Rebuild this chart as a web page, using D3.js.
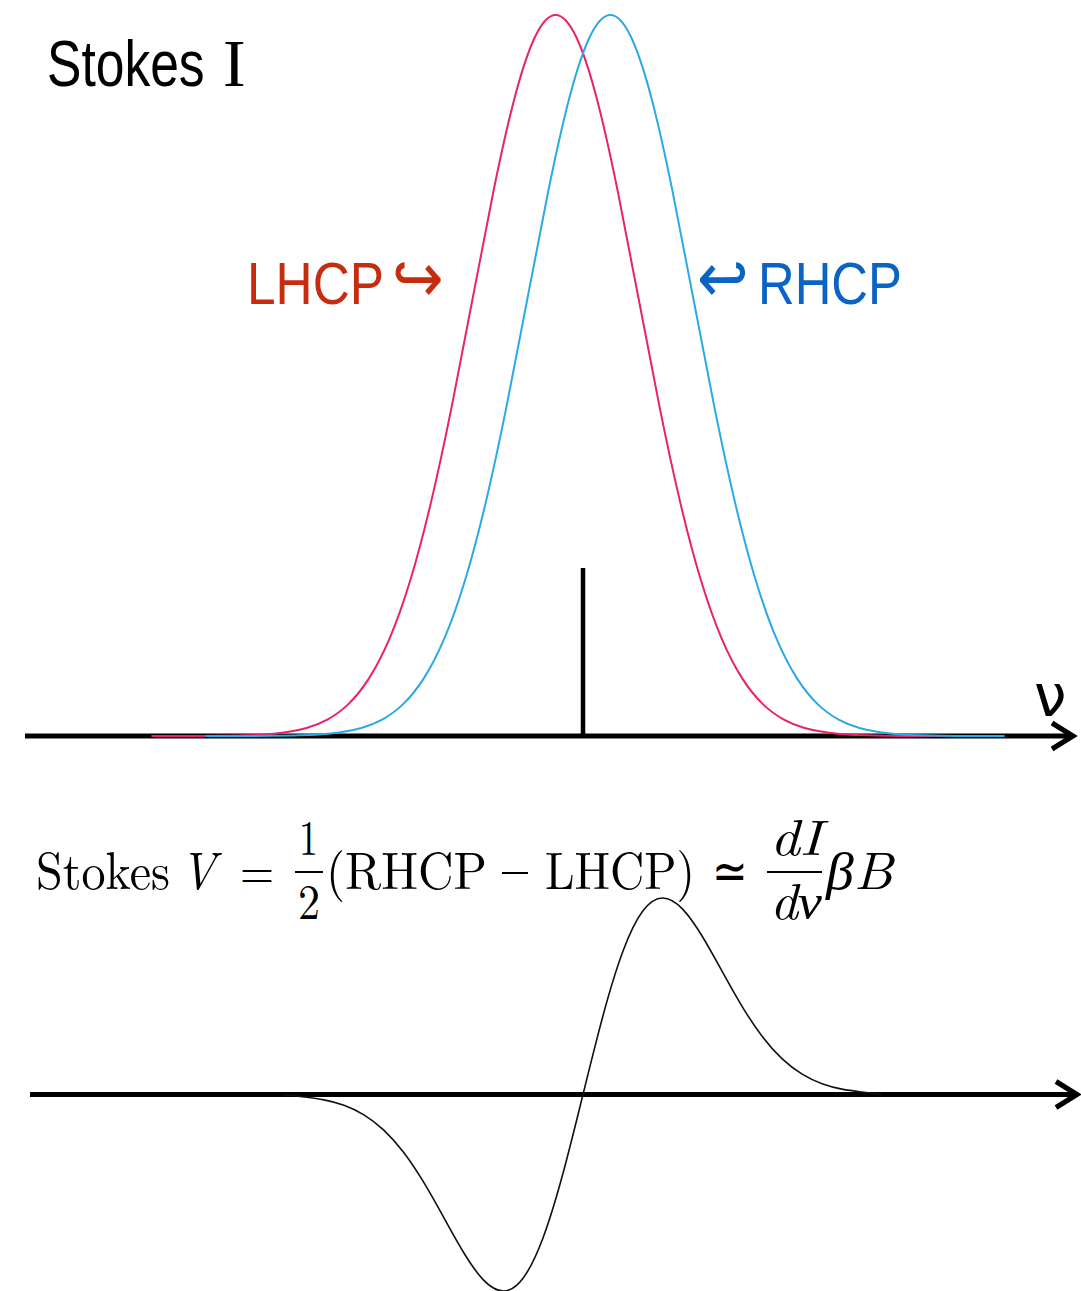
<!DOCTYPE html>
<html>
<head>
<meta charset="utf-8">
<script src="https://cdn.jsdelivr.net/npm/d3@7"></script>
<style>
  html, body { margin: 0; padding: 0; background: #fff; }
  svg { display: block; }
</style>
</head>
<body>
<svg id="chart" width="1081" height="1291"></svg>
<script>
// Frequency offsets (units of the line width) and normalised intensity
const nuLHCP = [-5.20, -4.83, -4.58, -4.33, -4.08, -3.83, -3.58, -3.33, -3.08, -2.83, -2.58, -2.33, -2.08, -1.83, -1.58, -1.33, -1.08, -0.83, -0.58, -0.33,
                -0.08, 0.17, 0.42, 0.67, 0.92, 1.17, 1.42, 1.67, 1.92, 2.17, 2.42, 2.67, 2.92, 3.17, 3.42, 3.67, 3.92, 4.17, 4.42];
const intensityLHCP = [0, 0.00004, 0.0001, 0.0003, 0.0009, 0.0022, 0.0051, 0.0111, 0.0228, 0.0439, 0.0796, 0.1353, 0.2163, 0.3247, 0.4578, 0.6065, 0.7548, 0.8825, 0.9692, 1,
                       0.9692, 0.8825, 0.7548, 0.6065, 0.4578, 0.3247, 0.2163, 0.1353, 0.0796, 0.0439, 0.0228, 0.0111, 0.0051, 0.0022, 0.0009, 0.0003, 0.0001, 0.00004, 0];

const nuRHCP = [-4.55, -4.17, -3.92, -3.67, -3.42, -3.17, -2.92, -2.67, -2.42, -2.17, -1.92, -1.67, -1.42, -1.17, -0.92, -0.67, -0.42, -0.17, 0.08, 0.33,
                0.58, 0.83, 1.08, 1.33, 1.58, 1.83, 2.08, 2.33, 2.58, 2.83, 3.08, 3.33, 3.58, 3.83, 4.08, 4.33, 4.58, 4.83, 5.08];
const intensityRHCP = [0, 0.00004, 0.0001, 0.0003, 0.0009, 0.0022, 0.0051, 0.0111, 0.0228, 0.0439, 0.0796, 0.1353, 0.2163, 0.3247, 0.4578, 0.6065, 0.7548, 0.8825, 0.9692, 1,
                       0.9692, 0.8825, 0.7548, 0.6065, 0.4578, 0.3247, 0.2163, 0.1353, 0.0796, 0.0439, 0.0228, 0.0111, 0.0051, 0.0022, 0.0009, 0.0003, 0.0001, 0.00004, 0];

// Stokes V profile (normalised)
const nuV = [-3.60, -3.36, -3.12, -2.88, -2.64, -2.40, -2.16, -1.92, -1.68, -1.44, -1.20, -0.96, -0.72, -0.48, -0.24, 0,
             0.24, 0.48, 0.72, 0.96, 1.20, 1.44, 1.68, 1.92, 2.16, 2.40, 2.64, 2.88, 3.12, 3.36, 3.60];
const stokesV = [0, -0.0126, -0.0273, -0.0549, -0.1034, -0.1811, -0.2952, -0.4463, -0.6241, -0.8029, -0.9435, -1, -0.9334, -0.7275, -0.3996, 0,
                 0.3996, 0.7275, 0.9334, 1, 0.9435, 0.8029, 0.6241, 0.4463, 0.2952, 0.1811, 0.1034, 0.0549, 0.0273, 0.0126, 0];

// Rest-frequency marker height (fraction of peak intensity)
const restMarker = [0, 0.233];

const svg = d3.select("#chart");

const x = d3.scaleLinear().domain([-7, 7]).range([2, 1164]);
const yI = d3.scaleLinear().domain([0, 1]).range([736, 15]);
const yV = d3.scaleLinear().domain([-1, 1]).range([1291, 898]);

const pinkColor = "#e8226c";
const blueColor = "#2aaae4";
const redText = "#c62d0e";
const blueText = "#0b63c4";
const sans = "'Liberation Sans', Arial, sans-serif";

function drawAxis(y0, x0, x1) {
  const g = svg.append("g");
  g.append("line")
    .attr("x1", x0).attr("x2", x1 - 2)
    .attr("y1", y0).attr("y2", y0)
    .attr("stroke", "#000").attr("stroke-width", 5);
  g.append("path")
    .attr("d", `M${x1 - 21},${y0 - 13} L${x1},${y0} L${x1 - 21},${y0 + 13}`)
    .attr("fill", "none").attr("stroke", "#000")
    .attr("stroke-width", 5).attr("stroke-linejoin", "miter").attr("stroke-linecap", "butt");
}

// condensed label: horizontally squeezed sans text
function condensed(txt, px, py, size, sx, color, family) {
  return svg.append("text")
    .attr("transform", `translate(${px},${py}) scale(${sx},1)`)
    .attr("font-family", family || sans).attr("font-size", size)
    .attr("fill", color).text(txt);
}

// ---------- Stokes I panel ----------
drawAxis(yI(0), 25, 1073);

svg.append("line")
  .attr("x1", x(0)).attr("x2", x(0))
  .attr("y1", yI(restMarker[0])).attr("y2", yI(restMarker[1]))
  .attr("stroke", "#000").attr("stroke-width", 4.5);

const lineI = d3.line().curve(d3.curveNatural);

svg.append("path")
  .attr("d", lineI(nuLHCP.map((v, i) => [x(v), yI(intensityLHCP[i])])))
  .attr("fill", "none").attr("stroke", pinkColor).attr("stroke-width", 2);

svg.append("path")
  .attr("d", lineI(nuRHCP.map((v, i) => [x(v), yI(intensityRHCP[i])])))
  .attr("fill", "none").attr("stroke", blueColor).attr("stroke-width", 2);

// Panel title
condensed("Stokes", 47, 86, 64, 0.806, "#000");
svg.append("text")
  .attr("x", 223).attr("y", 86)
  .attr("font-family", "'Liberation Serif', 'Times New Roman', serif")
  .attr("font-size", 68)
  .attr("fill", "#000").text("I");

// Polarisation labels
condensed("LHCP", 247, 304, 60, 0.856, redText);
condensed("↪", 392, 302, 70, 0.88, redText, "'DejaVu Sans', sans-serif");
condensed("↩", 697, 302, 70, 0.88, blueText, "'DejaVu Sans', sans-serif");
condensed("RHCP", 758, 304, 60, 0.847, blueText);

svg.append("text")
  .attr("x", 1034).attr("y", 716)
  .attr("font-family", "'DejaVu Sans', sans-serif")
  .attr("font-size", 58)
  .attr("fill", "#000").text("ν");

// ---------- Stokes V panel ----------
drawAxis(yV(0), 30, 1077);

const lineV = d3.line().curve(d3.curveNatural);
svg.append("path")
  .attr("d", lineV(nuV.map((v, i) => [x(v), yV(stokesV[i])])))
  .attr("fill", "none").attr("stroke", "#111").attr("stroke-width", 1.6);

// Formula: Stokes V = 1/2 (RHCP − LHCP) ≃ dI/dν βB
const serif = "'Latin Modern Roman', 'Liberation Serif', 'DejaVu Serif', serif";
const formula = svg.append("text").attr("fill", "#000")
  .attr("font-family", serif).attr("font-size", 52);

function piece(txt, px, py, len, italic) {
  const t = formula.append("tspan").attr("x", px).attr("y", py).text(txt);
  if (len) t.attr("textLength", len).attr("lengthAdjust", "spacingAndGlyphs");
  if (italic) t.attr("font-style", "italic");
  return t;
}
piece("Stokes", 36, 889, 134);
piece("V", 180, 889, 36, true);
piece("=", 240, 889, 34);
piece("1", 299, 855, 19).attr("font-size", 50);
piece("2", 298, 919, 22).attr("font-size", 50);
piece("(RHCP", 326, 889, 161);
piece("LHCP)", 545, 889, 150);
piece("dI", 770, 855, 52, true).attr("font-size", 50);
piece("dν", 770, 919, 52, true).attr("font-size", 50);
piece("βB", 826, 889, 67, true);
piece("≃", 712, 889, 36).attr("font-family", "'DejaVu Sans', sans-serif").attr("font-weight", 200);

// Fraction bars and the minus sign
const rules = svg.append("g").attr("stroke", "#000").attr("stroke-width", 2);
rules.append("line").attr("x1", 295).attr("x2", 323).attr("y1", 872).attr("y2", 872);
rules.append("line").attr("x1", 767).attr("x2", 822).attr("y1", 872).attr("y2", 872);
rules.append("line").attr("x1", 502).attr("x2", 528).attr("y1", 873).attr("y2", 873);
</script>
</body>
</html>
